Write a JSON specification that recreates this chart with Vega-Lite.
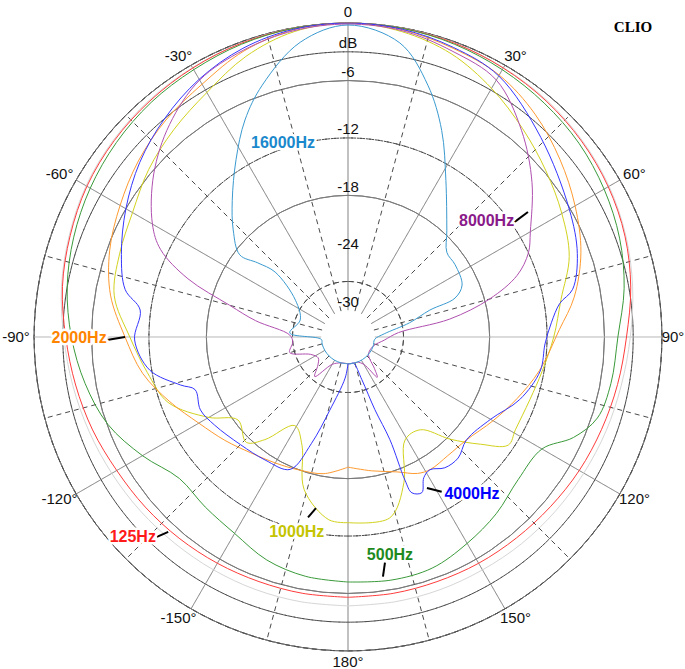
{
  "$schema": "https://vega.github.io/schema/vega-lite/v6.json",
  "width": 685,
  "height": 669,
  "autosize": {"type": "none"},
  "padding": 0,
  "background": "white",
  "config": {"view": {"stroke": null}},
  "datasets": {
    "rings": [
      {"db": 0, "kind": "solid"}, {"db": -3, "kind": "dash"}, {"db": -6, "kind": "solid"},
      {"db": -9, "kind": "dash"}, {"db": -12, "kind": "solid"}, {"db": -15, "kind": "dash"},
      {"db": -18, "kind": "solid"}, {"db": -21, "kind": "dash"}, {"db": -24, "kind": "solid"},
      {"db": -27, "kind": "dash"}, {"db": -30, "kind": "solid"}
    ],
    "spokes": [
      {"a": -165, "kind": "dash"}, {"a": -150, "kind": "solid"}, {"a": -135, "kind": "dash"},
      {"a": -120, "kind": "solid"}, {"a": -105, "kind": "dash"}, {"a": -90, "kind": "axis"},
      {"a": -75, "kind": "dash"}, {"a": -60, "kind": "solid"}, {"a": -45, "kind": "dash"},
      {"a": -30, "kind": "solid"}, {"a": -15, "kind": "dash"}, {"a": 0, "kind": "solid"},
      {"a": 15, "kind": "dash"}, {"a": 30, "kind": "solid"}, {"a": 45, "kind": "dash"},
      {"a": 60, "kind": "solid"}, {"a": 75, "kind": "dash"}, {"a": 90, "kind": "axis"},
      {"a": 105, "kind": "dash"}, {"a": 120, "kind": "solid"}, {"a": 135, "kind": "dash"},
      {"a": 150, "kind": "solid"}, {"a": 165, "kind": "dash"}, {"a": 180, "kind": "solid"}
    ],
    "angleLabels": [
      {"a": 0, "t": "0"}, {"a": 30, "t": "30°"}, {"a": 60, "t": "60°"}, {"a": 90, "t": "90°"},
      {"a": 120, "t": "120°"}, {"a": 150, "t": "150°"}, {"a": 180, "t": "180°"},
      {"a": -150, "t": "-150°"}, {"a": -120, "t": "-120°"}, {"a": -90, "t": "-90°"},
      {"a": -60, "t": "-60°"}, {"a": -30, "t": "-30°"}
    ],
    "levelLabels": [
      {"db": -2.1, "t": "dB"}, {"db": -5.1, "t": "-6"}, {"db": -11.1, "t": "-12"},
      {"db": -17.1, "t": "-18"}, {"db": -23.1, "t": "-24"}, {"db": -29.1, "t": "-30"}
    ],
    "curveLabels": [
      {"f": "16000Hz", "a": -18.5, "db": -11.4},
      {"f": "8000Hz", "a": 50, "db": -13.9},
      {"f": "2000Hz", "a": -90.2, "db": -4.7},
      {"f": "4000Hz", "a": 141.7, "db": -11.9},
      {"f": "1000Hz", "a": -165.3, "db": -11.7},
      {"f": "500Hz", "a": 169.1, "db": -9.6},
      {"f": "125Hz", "a": -132.9, "db": -2.1}
    ],
    "leaders": [
      {"f": "8000Hz", "a1": 55.4, "d1": -11.85, "a2": 55.2, "d2": -9.9},
      {"f": "2000Hz", "a1": -90.7, "d1": -7.6, "a2": -90, "d2": -9.5},
      {"f": "4000Hz", "a1": 148.8, "d1": -13.9, "a2": 152.4, "d2": -15.0},
      {"f": "500Hz", "a1": 170.7, "d1": -8.9, "a2": 171.7, "d2": -7.5},
      {"f": "125Hz", "a1": -136.3, "d1": -3.9, "a2": -137.3, "d2": -5.1},
      {"f": "1000Hz", "a1": -167.5, "d1": -13.5, "a2": -169.4, "d2": -14.6}
    ],
    "brand": [{"t": "CLIO", "a": 42.6, "db": 11.2}],
    "curves": [
      {"f": "gray", "a": -180, "db": -4.7}, {"f": "gray", "a": -170, "db": -4.7}, {"f": "gray", "a": -160, "db": -4.7},
      {"f": "gray", "a": -150, "db": -4.7}, {"f": "gray", "a": -140, "db": -4.65}, {"f": "gray", "a": -130, "db": -4.5},
      {"f": "gray", "a": -120, "db": -4.3}, {"f": "gray", "a": -110, "db": -4.0}, {"f": "gray", "a": -100, "db": -3.6},
      {"f": "gray", "a": -90, "db": -3.1}, {"f": "gray", "a": -80, "db": -2.4}, {"f": "gray", "a": -70, "db": -1.8},
      {"f": "gray", "a": -60, "db": -1.2}, {"f": "gray", "a": -50, "db": -0.8}, {"f": "gray", "a": -40, "db": -0.5},
      {"f": "gray", "a": -30, "db": -0.3}, {"f": "gray", "a": -20, "db": -0.12}, {"f": "gray", "a": -10, "db": -0.03},
      {"f": "gray", "a": 0, "db": 0}, {"f": "gray", "a": 10, "db": -0.03}, {"f": "gray", "a": 20, "db": -0.12},
      {"f": "gray", "a": 30, "db": -0.3}, {"f": "gray", "a": 40, "db": -0.5}, {"f": "gray", "a": 50, "db": -0.85},
      {"f": "gray", "a": 60, "db": -1.3}, {"f": "gray", "a": 70, "db": -1.9}, {"f": "gray", "a": 80, "db": -2.6},
      {"f": "gray", "a": 90, "db": -3.3}, {"f": "gray", "a": 100, "db": -3.8}, {"f": "gray", "a": 110, "db": -4.1},
      {"f": "gray", "a": 120, "db": -4.35}, {"f": "gray", "a": 130, "db": -4.5}, {"f": "gray", "a": 140, "db": -4.6},
      {"f": "gray", "a": 150, "db": -4.7}, {"f": "gray", "a": 160, "db": -4.7}, {"f": "gray", "a": 170, "db": -4.7},
      {"f": "gray", "a": 180, "db": -4.7},

      {"f": "125Hz", "a": -180, "db": -5.6}, {"f": "125Hz", "a": -170, "db": -5.6}, {"f": "125Hz", "a": -160, "db": -5.6},
      {"f": "125Hz", "a": -150, "db": -5.5}, {"f": "125Hz", "a": -140, "db": -5.35}, {"f": "125Hz", "a": -130, "db": -5.15},
      {"f": "125Hz", "a": -120, "db": -4.9}, {"f": "125Hz", "a": -110, "db": -4.4}, {"f": "125Hz", "a": -100, "db": -3.9},
      {"f": "125Hz", "a": -90, "db": -3.3}, {"f": "125Hz", "a": -80, "db": -2.5}, {"f": "125Hz", "a": -70, "db": -1.9},
      {"f": "125Hz", "a": -60, "db": -1.3}, {"f": "125Hz", "a": -50, "db": -0.9}, {"f": "125Hz", "a": -40, "db": -0.6},
      {"f": "125Hz", "a": -30, "db": -0.35}, {"f": "125Hz", "a": -20, "db": -0.15}, {"f": "125Hz", "a": -10, "db": -0.05},
      {"f": "125Hz", "a": 0, "db": 0}, {"f": "125Hz", "a": 10, "db": -0.05}, {"f": "125Hz", "a": 20, "db": -0.15},
      {"f": "125Hz", "a": 30, "db": -0.35}, {"f": "125Hz", "a": 40, "db": -0.6}, {"f": "125Hz", "a": 50, "db": -0.95},
      {"f": "125Hz", "a": 60, "db": -1.4}, {"f": "125Hz", "a": 70, "db": -2.0}, {"f": "125Hz", "a": 80, "db": -2.8},
      {"f": "125Hz", "a": 90, "db": -3.7}, {"f": "125Hz", "a": 100, "db": -4.2}, {"f": "125Hz", "a": 110, "db": -4.6},
      {"f": "125Hz", "a": 120, "db": -4.9}, {"f": "125Hz", "a": 130, "db": -5.2}, {"f": "125Hz", "a": 140, "db": -5.4},
      {"f": "125Hz", "a": 150, "db": -5.5}, {"f": "125Hz", "a": 160, "db": -5.6}, {"f": "125Hz", "a": 170, "db": -5.6},
      {"f": "125Hz", "a": 180, "db": -5.6},

      {"f": "500Hz", "a": -180, "db": -7.2}, {"f": "500Hz", "a": -170, "db": -7.4}, {"f": "500Hz", "a": -160, "db": -8.0},
      {"f": "500Hz", "a": -150, "db": -9.1}, {"f": "500Hz", "a": -140, "db": -9.6}, {"f": "500Hz", "a": -130, "db": -9.8},
      {"f": "500Hz", "a": -120, "db": -8.0}, {"f": "500Hz", "a": -110, "db": -6.1}, {"f": "500Hz", "a": -100, "db": -4.9},
      {"f": "500Hz", "a": -90, "db": -3.9}, {"f": "500Hz", "a": -80, "db": -3.0}, {"f": "500Hz", "a": -70, "db": -2.3},
      {"f": "500Hz", "a": -60, "db": -1.7}, {"f": "500Hz", "a": -50, "db": -1.2}, {"f": "500Hz", "a": -40, "db": -0.8},
      {"f": "500Hz", "a": -30, "db": -0.55}, {"f": "500Hz", "a": -20, "db": -0.25}, {"f": "500Hz", "a": -10, "db": -0.05},
      {"f": "500Hz", "a": 0, "db": 0}, {"f": "500Hz", "a": 10, "db": -0.05}, {"f": "500Hz", "a": 20, "db": -0.25},
      {"f": "500Hz", "a": 30, "db": -0.55}, {"f": "500Hz", "a": 40, "db": -0.9}, {"f": "500Hz", "a": 50, "db": -1.3},
      {"f": "500Hz", "a": 60, "db": -1.9}, {"f": "500Hz", "a": 70, "db": -2.6}, {"f": "500Hz", "a": 80, "db": -3.5},
      {"f": "500Hz", "a": 90, "db": -4.6}, {"f": "500Hz", "a": 100, "db": -4.9}, {"f": "500Hz", "a": 108, "db": -5.4},
      {"f": "500Hz", "a": 114, "db": -7.0}, {"f": "500Hz", "a": 120, "db": -9.4}, {"f": "500Hz", "a": 130, "db": -9.6},
      {"f": "500Hz", "a": 140, "db": -8.7}, {"f": "500Hz", "a": 150, "db": -7.9}, {"f": "500Hz", "a": 160, "db": -7.1},
      {"f": "500Hz", "a": 170, "db": -7.0}, {"f": "500Hz", "a": 180, "db": -7.2},

      {"f": "1000Hz", "a": -180, "db": -13.4}, {"f": "1000Hz", "a": -174, "db": -13.6}, {"f": "1000Hz", "a": -164, "db": -16.2},
      {"f": "1000Hz", "a": -157, "db": -20.5}, {"f": "1000Hz", "a": -149, "db": -22.0}, {"f": "1000Hz", "a": -141, "db": -19.0},
      {"f": "1000Hz", "a": -136, "db": -17.5}, {"f": "1000Hz", "a": -127, "db": -18.4}, {"f": "1000Hz", "a": -120, "db": -16.0},
      {"f": "1000Hz", "a": -110, "db": -12.8}, {"f": "1000Hz", "a": -100, "db": -11.5}, {"f": "1000Hz", "a": -90, "db": -10.0},
      {"f": "1000Hz", "a": -80, "db": -8.0}, {"f": "1000Hz", "a": -70, "db": -7.4}, {"f": "1000Hz", "a": -60, "db": -6.8},
      {"f": "1000Hz", "a": -50, "db": -5.6}, {"f": "1000Hz", "a": -40, "db": -4.5}, {"f": "1000Hz", "a": -30, "db": -3.3},
      {"f": "1000Hz", "a": -20, "db": -1.6}, {"f": "1000Hz", "a": -10, "db": -0.4}, {"f": "1000Hz", "a": 0, "db": 0},
      {"f": "1000Hz", "a": 10, "db": -0.4}, {"f": "1000Hz", "a": 20, "db": -1.3}, {"f": "1000Hz", "a": 30, "db": -2.8},
      {"f": "1000Hz", "a": 40, "db": -4.4}, {"f": "1000Hz", "a": 50, "db": -5.8}, {"f": "1000Hz", "a": 60, "db": -7.0},
      {"f": "1000Hz", "a": 70, "db": -8.2}, {"f": "1000Hz", "a": 80, "db": -10.2}, {"f": "1000Hz", "a": 90, "db": -11.3},
      {"f": "1000Hz", "a": 100, "db": -12.2}, {"f": "1000Hz", "a": 109, "db": -12.7}, {"f": "1000Hz", "a": 119, "db": -12.8},
      {"f": "1000Hz", "a": 124, "db": -12.6}, {"f": "1000Hz", "a": 129, "db": -15.0}, {"f": "1000Hz", "a": 135, "db": -17.7},
      {"f": "1000Hz", "a": 142, "db": -20.5}, {"f": "1000Hz", "a": 151, "db": -20.5}, {"f": "1000Hz", "a": 159, "db": -16.5},
      {"f": "1000Hz", "a": 167, "db": -13.4}, {"f": "1000Hz", "a": 180, "db": -13.4},

      {"f": "2000Hz", "a": -180, "db": -19.2}, {"f": "2000Hz", "a": -170, "db": -18.3}, {"f": "2000Hz", "a": -160, "db": -18.0},
      {"f": "2000Hz", "a": -150, "db": -17.6}, {"f": "2000Hz", "a": -140, "db": -17.0}, {"f": "2000Hz", "a": -130, "db": -16.0},
      {"f": "2000Hz", "a": -120, "db": -14.8}, {"f": "2000Hz", "a": -110, "db": -13.0}, {"f": "2000Hz", "a": -100, "db": -11.0},
      {"f": "2000Hz", "a": -90, "db": -9.5}, {"f": "2000Hz", "a": -80, "db": -7.6}, {"f": "2000Hz", "a": -70, "db": -6.3},
      {"f": "2000Hz", "a": -60, "db": -5.3}, {"f": "2000Hz", "a": -50, "db": -4.2}, {"f": "2000Hz", "a": -40, "db": -3.2},
      {"f": "2000Hz", "a": -30, "db": -2.3}, {"f": "2000Hz", "a": -20, "db": -1.0}, {"f": "2000Hz", "a": -10, "db": -0.2},
      {"f": "2000Hz", "a": 0, "db": 0}, {"f": "2000Hz", "a": 10, "db": -0.2}, {"f": "2000Hz", "a": 20, "db": -0.7},
      {"f": "2000Hz", "a": 30, "db": -1.2}, {"f": "2000Hz", "a": 40, "db": -2.4}, {"f": "2000Hz", "a": 50, "db": -3.9},
      {"f": "2000Hz", "a": 60, "db": -5.4}, {"f": "2000Hz", "a": 70, "db": -6.9}, {"f": "2000Hz", "a": 80, "db": -8.8},
      {"f": "2000Hz", "a": 88, "db": -10.7}, {"f": "2000Hz", "a": 100, "db": -12.5}, {"f": "2000Hz", "a": 110, "db": -14.0},
      {"f": "2000Hz", "a": 120, "db": -15.3}, {"f": "2000Hz", "a": 131, "db": -16.4}, {"f": "2000Hz", "a": 140, "db": -16.6},
      {"f": "2000Hz", "a": 148, "db": -16.5}, {"f": "2000Hz", "a": 153, "db": -16.8}, {"f": "2000Hz", "a": 160, "db": -17.8},
      {"f": "2000Hz", "a": 170, "db": -18.6}, {"f": "2000Hz", "a": 180, "db": -19.2},

      {"f": "4000Hz", "a": -180, "db": -30}, {"f": "4000Hz", "a": -176, "db": -28.5}, {"f": "4000Hz", "a": -166, "db": -24.9},
      {"f": "4000Hz", "a": -161, "db": -21.0}, {"f": "4000Hz", "a": -156.4, "db": -17.7}, {"f": "4000Hz", "a": -146, "db": -17.3},
      {"f": "4000Hz", "a": -135, "db": -16.9}, {"f": "4000Hz", "a": -123.5, "db": -16.1}, {"f": "4000Hz", "a": -116.3, "db": -15.6},
      {"f": "4000Hz", "a": -109, "db": -15.9}, {"f": "4000Hz", "a": -106, "db": -14.6}, {"f": "4000Hz", "a": -99.5, "db": -11.8},
      {"f": "4000Hz", "a": -90.8, "db": -10.5}, {"f": "4000Hz", "a": -82.6, "db": -10.9}, {"f": "4000Hz", "a": -78, "db": -9.0},
      {"f": "4000Hz", "a": -70, "db": -7.6}, {"f": "4000Hz", "a": -60, "db": -6.0}, {"f": "4000Hz", "a": -50, "db": -4.4},
      {"f": "4000Hz", "a": -40, "db": -3.0}, {"f": "4000Hz", "a": -30, "db": -1.7}, {"f": "4000Hz", "a": -20, "db": -0.7},
      {"f": "4000Hz", "a": -10, "db": -0.15}, {"f": "4000Hz", "a": 0, "db": 0}, {"f": "4000Hz", "a": 10, "db": -0.15},
      {"f": "4000Hz", "a": 20, "db": -0.6}, {"f": "4000Hz", "a": 30, "db": -1.3}, {"f": "4000Hz", "a": 44, "db": -3.8},
      {"f": "4000Hz", "a": 60, "db": -6.1}, {"f": "4000Hz", "a": 70, "db": -7.3}, {"f": "4000Hz", "a": 78, "db": -8.8},
      {"f": "4000Hz", "a": 81, "db": -10.4}, {"f": "4000Hz", "a": 86, "db": -11.5}, {"f": "4000Hz", "a": 92, "db": -12.2},
      {"f": "4000Hz", "a": 100, "db": -12.4}, {"f": "4000Hz", "a": 110, "db": -13.7}, {"f": "4000Hz", "a": 120, "db": -15.6},
      {"f": "4000Hz", "a": 131, "db": -16.4}, {"f": "4000Hz", "a": 137.7, "db": -15.7}, {"f": "4000Hz", "a": 143.5, "db": -15.8},
      {"f": "4000Hz", "a": 148.3, "db": -16.5}, {"f": "4000Hz", "a": 151.7, "db": -16.1}, {"f": "4000Hz", "a": 154.6, "db": -14.8},
      {"f": "4000Hz", "a": 157.7, "db": -15.2}, {"f": "4000Hz", "a": 158.3, "db": -16.7}, {"f": "4000Hz", "a": 157.8, "db": -21.2},
      {"f": "4000Hz", "a": 159.7, "db": -24.7}, {"f": "4000Hz", "a": 162, "db": -28.1}, {"f": "4000Hz", "a": 168, "db": -30},
      {"f": "4000Hz", "a": 175, "db": -30}, {"f": "4000Hz", "a": 180, "db": -30},

      {"f": "8000Hz", "a": -180, "db": -30}, {"f": "8000Hz", "a": -165, "db": -30}, {"f": "8000Hz", "a": -150, "db": -29.5},
      {"f": "8000Hz", "a": -140, "db": -27.4}, {"f": "8000Hz", "a": -133, "db": -28.5}, {"f": "8000Hz", "a": -125, "db": -29},
      {"f": "8000Hz", "a": -115, "db": -28.5}, {"f": "8000Hz", "a": -105, "db": -26.5}, {"f": "8000Hz", "a": -95, "db": -27.0},
      {"f": "8000Hz", "a": -88, "db": -26.7}, {"f": "8000Hz", "a": -80, "db": -23}, {"f": "8000Hz", "a": -75, "db": -20},
      {"f": "8000Hz", "a": -70, "db": -15}, {"f": "8000Hz", "a": -65, "db": -11.2}, {"f": "8000Hz", "a": -60, "db": -9.2},
      {"f": "8000Hz", "a": -50, "db": -6.3}, {"f": "8000Hz", "a": -40, "db": -3.8}, {"f": "8000Hz", "a": -30, "db": -1.8},
      {"f": "8000Hz", "a": -20, "db": -0.9}, {"f": "8000Hz", "a": -10, "db": -0.3}, {"f": "8000Hz", "a": 0, "db": -0.1},
      {"f": "8000Hz", "a": 10, "db": -0.3}, {"f": "8000Hz", "a": 20, "db": -1.0}, {"f": "8000Hz", "a": 30, "db": -1.8},
      {"f": "8000Hz", "a": 40, "db": -4.6}, {"f": "8000Hz", "a": 50, "db": -7.7}, {"f": "8000Hz", "a": 60, "db": -10.8},
      {"f": "8000Hz", "a": 65, "db": -12}, {"f": "8000Hz", "a": 70, "db": -14}, {"f": "8000Hz", "a": 75, "db": -17.5},
      {"f": "8000Hz", "a": 80, "db": -22}, {"f": "8000Hz", "a": 85, "db": -27.5}, {"f": "8000Hz", "a": 95, "db": -29},
      {"f": "8000Hz", "a": 110, "db": -30}, {"f": "8000Hz", "a": 130, "db": -30}, {"f": "8000Hz", "a": 140, "db": -28.5},
      {"f": "8000Hz", "a": 144, "db": -27.6}, {"f": "8000Hz", "a": 150, "db": -29.5}, {"f": "8000Hz", "a": 160, "db": -30},
      {"f": "8000Hz", "a": 170, "db": -30}, {"f": "8000Hz", "a": 180, "db": -30},

      {"f": "16000Hz", "a": -180, "db": -30}, {"f": "16000Hz", "a": -165, "db": -30}, {"f": "16000Hz", "a": -150, "db": -30},
      {"f": "16000Hz", "a": -135, "db": -30}, {"f": "16000Hz", "a": -120, "db": -30}, {"f": "16000Hz", "a": -105, "db": -30},
      {"f": "16000Hz", "a": -95, "db": -30}, {"f": "16000Hz", "a": -86, "db": -26.7}, {"f": "16000Hz", "a": -70.5, "db": -27.5},
      {"f": "16000Hz", "a": -55, "db": -26.1}, {"f": "16000Hz", "a": -48.3, "db": -22.6}, {"f": "16000Hz", "a": -50.6, "db": -20.6},
      {"f": "16000Hz", "a": -52.8, "db": -18.6}, {"f": "16000Hz", "a": -47, "db": -16.4}, {"f": "16000Hz", "a": -40.3, "db": -14.1},
      {"f": "16000Hz", "a": -32.3, "db": -10.9}, {"f": "16000Hz", "a": -25.4, "db": -7.7}, {"f": "16000Hz", "a": -18.8, "db": -5.0},
      {"f": "16000Hz", "a": -9.2, "db": -1.6}, {"f": "16000Hz", "a": 0, "db": -0.2}, {"f": "16000Hz", "a": 10, "db": -1.6},
      {"f": "16000Hz", "a": 17.6, "db": -5.2}, {"f": "16000Hz", "a": 24.4, "db": -9.1}, {"f": "16000Hz", "a": 32, "db": -13.5},
      {"f": "16000Hz", "a": 42.8, "db": -17.6}, {"f": "16000Hz", "a": 49.4, "db": -19.2}, {"f": "16000Hz", "a": 56, "db": -19.3},
      {"f": "16000Hz", "a": 65.5, "db": -19.7}, {"f": "16000Hz", "a": 70, "db": -20.9}, {"f": "16000Hz", "a": 71.8, "db": -23.8},
      {"f": "16000Hz", "a": 77, "db": -26.2}, {"f": "16000Hz", "a": 85, "db": -29}, {"f": "16000Hz", "a": 95, "db": -30},
      {"f": "16000Hz", "a": 110, "db": -30}, {"f": "16000Hz", "a": 125, "db": -30}, {"f": "16000Hz", "a": 140, "db": -30},
      {"f": "16000Hz", "a": 155, "db": -30}, {"f": "16000Hz", "a": 170, "db": -30}, {"f": "16000Hz", "a": 180, "db": -30}
    ]
  },
  "layer": [
    {
      "data": {"name": "rings"},
      "transform": [{"filter": "datum.kind == 'solid'"}],
      "mark": {"type": "arc", "filled": false, "theta": 0, "theta2": 6.2832, "color": "#7a7a7a", "strokeWidth": 1},
      "encoding": {
        "x": {"datum": 0, "type": "quantitative", "scale": {"domain": [-36.364, 35.214], "nice": false, "zero": false}, "axis": null},
        "y": {"datum": 0, "type": "quantitative", "scale": {"domain": [-34.692, 35.214], "nice": false, "zero": false}, "axis": null},
        "radius": {"field": "db", "type": "quantitative", "scale": {"type": "linear", "domain": [-32.8, 0], "range": [0, 313.9], "zero": false, "nice": false}}
      }
    },
    {
      "data": {"name": "rings"},
      "transform": [{"filter": "datum.kind == 'dash'"}],
      "mark": {"type": "arc", "filled": false, "theta": 0, "theta2": 6.2832, "color": "#4a4a4a", "strokeWidth": 1, "strokeDash": [5, 4]},
      "encoding": {
        "x": {"datum": 0, "type": "quantitative"},
        "y": {"datum": 0, "type": "quantitative"},
        "radius": {"field": "db", "type": "quantitative"}
      }
    },
    {
      "data": {"name": "spokes"},
      "transform": [
        {"calculate": "2.8 * sin(datum.a * PI / 180)", "as": "x1"},
        {"calculate": "2.8 * cos(datum.a * PI / 180)", "as": "y1"},
        {"calculate": "32.8 * sin(datum.a * PI / 180)", "as": "x2"},
        {"calculate": "32.8 * cos(datum.a * PI / 180)", "as": "y2"}
      ],
      "mark": {"type": "rule", "strokeWidth": 1},
      "encoding": {
        "x": {"field": "x1", "type": "quantitative"},
        "y": {"field": "y1", "type": "quantitative"},
        "x2": {"field": "x2"},
        "y2": {"field": "y2"},
        "color": {"field": "kind", "type": "nominal", "scale": {"domain": ["solid", "dash", "axis"], "range": ["#7a7a7a", "#4a4a4a", "#b0b0b0"]}, "legend": null},
        "strokeDash": {"field": "kind", "type": "nominal", "scale": {"domain": ["solid", "dash", "axis"], "range": [[1, 0], [5, 4], [1, 0]]}, "legend": null}
      }
    },
    {
      "data": {"name": "curves"},
      "transform": [
        {"window": [{"op": "row_number", "as": "k"}], "groupby": ["f"]},
        {"calculate": "max(datum.db, -30) + 32.8", "as": "u"},
        {"calculate": "datum.u * sin(datum.a * PI / 180)", "as": "px"},
        {"calculate": "datum.u * cos(datum.a * PI / 180)", "as": "py"}
      ],
      "mark": {"type": "line", "interpolate": "catmull-rom", "strokeWidth": 1},
      "encoding": {
        "x": {"field": "px", "type": "quantitative"},
        "y": {"field": "py", "type": "quantitative"},
        "order": {"field": "k", "type": "quantitative"},
        "color": {"field": "f", "type": "nominal", "legend": null,
          "scale": {"domain": ["gray", "125Hz", "500Hz", "1000Hz", "2000Hz", "4000Hz", "8000Hz", "16000Hz"],
                    "range": ["#d6d6d6", "#ff3b3b", "#3a9a3a", "#d2d21e", "#ff9a30", "#3535ff", "#b050b0", "#3a9ad0"]}}
      }
    },
    {
      "data": {"name": "leaders"},
      "transform": [
        {"calculate": "(datum.d1 + 32.8) * sin(datum.a1 * PI / 180)", "as": "x1"},
        {"calculate": "(datum.d1 + 32.8) * cos(datum.a1 * PI / 180)", "as": "y1"},
        {"calculate": "(datum.d2 + 32.8) * sin(datum.a2 * PI / 180)", "as": "x2"},
        {"calculate": "(datum.d2 + 32.8) * cos(datum.a2 * PI / 180)", "as": "y2"}
      ],
      "mark": {"type": "rule", "color": "#000000", "strokeWidth": 2},
      "encoding": {
        "x": {"field": "x1", "type": "quantitative"},
        "y": {"field": "y1", "type": "quantitative"},
        "x2": {"field": "x2"},
        "y2": {"field": "y2"}
      }
    },
    {
      "data": {"name": "angleLabels"},
      "transform": [
        {"filter": "datum.a == 0 || datum.a == 90 || datum.a == 180"},
        {"calculate": "33.96 * sin(datum.a * PI / 180)", "as": "px"},
        {"calculate": "33.96 * cos(datum.a * PI / 180)", "as": "py"}
      ],
      "mark": {"type": "text", "font": "Liberation Sans", "fontSize": 15, "color": "#111111", "baseline": "middle", "align": "center"},
      "encoding": {
        "x": {"field": "px", "type": "quantitative"},
        "y": {"field": "py", "type": "quantitative"},
        "text": {"field": "t"}
      }
    },
    {
      "data": {"name": "angleLabels"},
      "transform": [
        {"filter": "datum.a > 0 && datum.a != 90 && datum.a != 180"},
        {"calculate": "33.96 * sin(datum.a * PI / 180)", "as": "px"},
        {"calculate": "33.96 * cos(datum.a * PI / 180)", "as": "py"}
      ],
      "mark": {"type": "text", "font": "Liberation Sans", "fontSize": 15, "color": "#111111", "baseline": "middle", "align": "center", "dx": 5},
      "encoding": {
        "x": {"field": "px", "type": "quantitative"},
        "y": {"field": "py", "type": "quantitative"},
        "text": {"field": "t"}
      }
    },
    {
      "data": {"name": "angleLabels"},
      "transform": [
        {"filter": "datum.a < 0"},
        {"calculate": "33.96 * sin(datum.a * PI / 180)", "as": "px"},
        {"calculate": "33.96 * cos(datum.a * PI / 180)", "as": "py"}
      ],
      "mark": {"type": "text", "font": "Liberation Sans", "fontSize": 15, "color": "#111111", "baseline": "middle", "align": "center", "dx": -7},
      "encoding": {
        "x": {"field": "px", "type": "quantitative"},
        "y": {"field": "py", "type": "quantitative"},
        "text": {"field": "t"}
      }
    },
    {
      "data": {"name": "levelLabels"},
      "transform": [{"calculate": "datum.db + 32.8", "as": "py"}],
      "mark": {"type": "text", "font": "Liberation Sans", "fontSize": 15, "color": "#111111", "baseline": "middle", "align": "center"},
      "encoding": {
        "x": {"datum": 0, "type": "quantitative"},
        "y": {"field": "py", "type": "quantitative"},
        "text": {"field": "t"}
      }
    },
    {
      "data": {"name": "curveLabels"},
      "transform": [
        {"calculate": "(datum.db + 32.8) * sin(datum.a * PI / 180)", "as": "px"},
        {"calculate": "(datum.db + 32.8) * cos(datum.a * PI / 180)", "as": "py"}
      ],
      "mark": {"type": "text", "font": "Liberation Sans", "fontSize": 16, "fontWeight": "bold", "baseline": "middle", "align": "center", "stroke": "white", "strokeWidth": 5, "strokeJoin": "round", "color": "white"},
      "encoding": {
        "x": {"field": "px", "type": "quantitative"},
        "y": {"field": "py", "type": "quantitative"},
        "text": {"field": "f"}
      }
    },
    {
      "data": {"name": "curveLabels"},
      "transform": [
        {"calculate": "(datum.db + 32.8) * sin(datum.a * PI / 180)", "as": "px"},
        {"calculate": "(datum.db + 32.8) * cos(datum.a * PI / 180)", "as": "py"}
      ],
      "mark": {"type": "text", "font": "Liberation Sans", "fontSize": 16, "fontWeight": "bold", "baseline": "middle", "align": "center"},
      "encoding": {
        "x": {"field": "px", "type": "quantitative"},
        "y": {"field": "py", "type": "quantitative"},
        "text": {"field": "f"},
        "color": {"field": "f", "type": "nominal", "legend": null,
          "scale": {"domain": ["gray", "125Hz", "500Hz", "1000Hz", "2000Hz", "4000Hz", "8000Hz", "16000Hz"],
                    "range": ["#d6d6d6", "#ff1a1a", "#1e8a1e", "#c4c400", "#ff8400", "#0000ff", "#8a1a8a", "#1a88cc"]}}
      }
    },
    {
      "data": {"name": "brand"},
      "transform": [
        {"calculate": "(datum.db + 32.8) * sin(datum.a * PI / 180)", "as": "px"},
        {"calculate": "(datum.db + 32.8) * cos(datum.a * PI / 180)", "as": "py"}
      ],
      "mark": {"type": "text", "font": "Liberation Serif", "fontSize": 15, "fontWeight": "bold", "baseline": "middle", "align": "center", "color": "#000000"},
      "encoding": {
        "x": {"field": "px", "type": "quantitative"},
        "y": {"field": "py", "type": "quantitative"},
        "text": {"field": "t"}
      }
    }
  ],
  "resolve": {"scale": {"color": "independent"}}
}
